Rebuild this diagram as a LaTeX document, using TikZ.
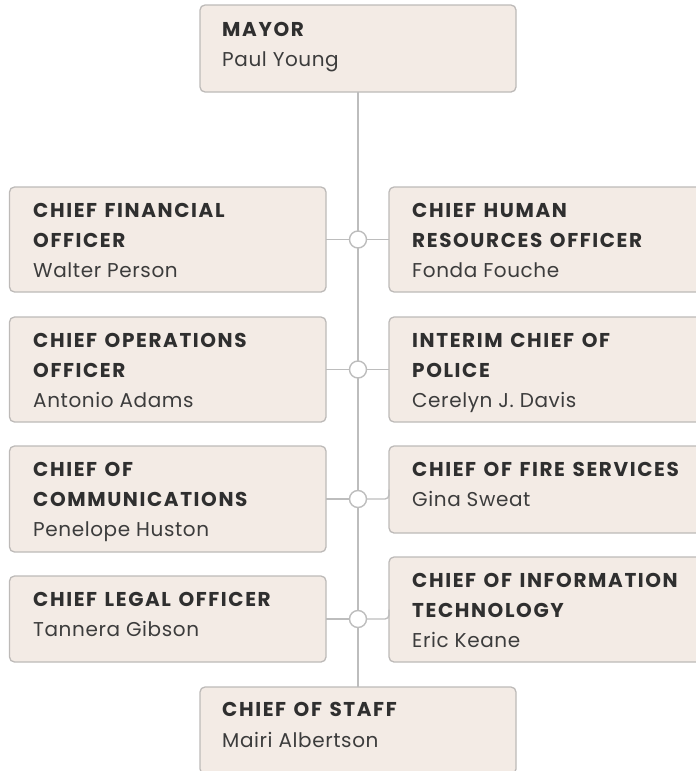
\documentclass[tikz,border=0pt]{standalone}
\usepackage{fontspec}
\setmainfont{Poppins}[LetterSpace=3, BoldFeatures={LetterSpace=8, WordSpace=1.3}]
\definecolor{boxfill}{HTML}{F3EBE5}
\definecolor{boxline}{HTML}{BDBAB8}
\definecolor{conn}{HTML}{BDBDBD}
\definecolor{titlecol}{HTML}{2F2F2F}
\definecolor{namecol}{HTML}{3C3C3C}
\tikzset{
  orgbox/.style={draw=boxline, fill=boxfill, line width=1.3pt, rounded corners=5pt,
    rectangle, anchor=north west, inner sep=0pt, outer sep=0pt},
  ttl/.style={anchor=base west, inner sep=0pt, font=\fontsize{20}{30}\selectfont\bfseries, text=titlecol},
  nm/.style={anchor=base west, inner sep=0pt, font=\fontsize{20}{30}\selectfont, text=namecol},
  link/.style={draw=conn, line width=1.4pt},
  junction/.style={circle, draw=conn, fill=white, line width=1.4pt, minimum size=17pt, inner sep=0pt},
}
\begin{document}
\begin{tikzpicture}[x=1pt,y=-1pt]
\useasboundingbox (0,0) rectangle (696,771);
% boxes
\node[orgbox, minimum width=316pt, minimum height=87pt] (mayor) at (200,5) {};
\node[orgbox, minimum width=316.5pt, minimum height=105pt] (cfo) at (9.5,187) {};
\node[orgbox, minimum width=340pt, minimum height=105pt] (chro) at (389,187) {};
\node[orgbox, minimum width=316.5pt, minimum height=105pt] (coo) at (9.5,317) {};
\node[orgbox, minimum width=340pt, minimum height=105pt] (police) at (389,317) {};
\node[orgbox, minimum width=316.5pt, minimum height=106pt] (comm) at (9.5,446) {};
\node[orgbox, minimum width=340pt, minimum height=87pt] (fire) at (389,446) {};
\node[orgbox, minimum width=316.5pt, minimum height=86pt] (legal) at (9.5,576) {};
\node[orgbox, minimum width=340pt, minimum height=105pt] (it) at (389,557) {};
\node[orgbox, minimum width=316pt, minimum height=87pt] (staff) at (200,687) {};
% trunk
\draw[link] (mayor.south) -- (staff.north);
% junctions
\node[junction] (j1) at (358,239.5) {};
\node[junction] (j2) at (358,369.5) {};
\node[junction] (j3) at (358,499) {};
\node[junction] (j4) at (358,619) {};
% links
\draw[link] (cfo.east) -- (j1.west);
\draw[link] (j1.east) -- (chro.west);
\draw[link] (coo.east) -- (j2.west);
\draw[link] (j2.east) -- (police.west);
\draw[link] (comm.east) -- (j3.west);
\draw[link, rounded corners=4pt] (j3.east) -| (fire.west);
\draw[link] (legal.east) -- (j4.west);
\draw[link, rounded corners=4pt] (j4.east) -| (it.west);
% texts
\node[ttl] (mayor-t) at (222,36.5) {MAYOR};
\node[nm] (mayor-n) at (222,66.5) {Paul Young};
\node[ttl] (cfo-t1) at (33,217) {CHIEF FINANCIAL};
\node[ttl] (cfo-t2) at (33,247) {OFFICER};
\node[nm] (cfo-n) at (33,277) {Walter Person};
\node[ttl] (chro-t1) at (412,217) {CHIEF HUMAN};
\node[ttl] (chro-t2) at (412,247) {RESOURCES OFFICER};
\node[nm] (chro-n) at (412,277) {Fonda Fouche};
\node[ttl] (coo-t1) at (33,347) {CHIEF OPERATIONS};
\node[ttl] (coo-t2) at (33,377) {OFFICER};
\node[nm] (coo-n) at (33,407) {Antonio Adams};
\node[ttl] (police-t1) at (412,347) {INTERIM CHIEF OF};
\node[ttl] (police-t2) at (412,377) {POLICE};
\node[nm] (police-n) at (412,407) {Cerelyn J. Davis};
\node[ttl] (comm-t1) at (33,476) {CHIEF OF};
\node[ttl] (comm-t2) at (33,506) {COMMUNICATIONS};
\node[nm] (comm-n) at (33,536) {Penelope Huston};
\node[ttl] (fire-t1) at (412,476) {CHIEF OF FIRE SERVICES};
\node[nm] (fire-n) at (412,506) {Gina Sweat};
\node[ttl] (legal-t1) at (33,606) {CHIEF LEGAL OFFICER};
\node[nm] (legal-n) at (33,636) {Tannera Gibson};
\node[ttl] (it-t1) at (412,587) {CHIEF OF INFORMATION};
\node[ttl] (it-t2) at (412,617) {TECHNOLOGY};
\node[nm] (it-n) at (412,647) {Eric Keane};
\node[ttl] (staff-t) at (222,716.5) {CHIEF OF STAFF};
\node[nm] (staff-n) at (222,747) {Mairi Albertson};
\end{tikzpicture}
\end{document}
